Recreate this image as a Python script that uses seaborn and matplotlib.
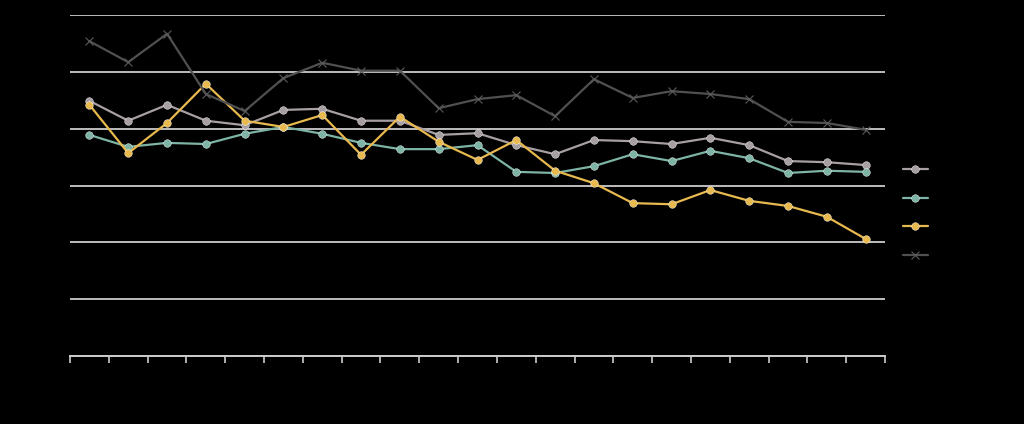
import matplotlib
matplotlib.use("Agg")
import matplotlib.pyplot as plt
import seaborn as sns
import pandas as pd
import numpy as np
from matplotlib.colors import to_rgba

years = [str(y) for y in range(2000, 2021)]
series_names = ["Series A", "Series B", "Series C", "Series D"]

series_a = [44.9, 41.4, 44.2, 41.4, 40.6, 43.3, 43.5, 41.4, 41.4, 38.9, 39.2,
            37.1, 35.5, 38.0, 37.8, 37.3, 38.4, 37.1, 34.3, 34.1, 33.6]
series_b = [38.9, 36.8, 37.5, 37.3, 39.1, 40.3, 39.1, 37.5, 36.4, 36.4, 37.1,
            32.4, 32.2, 33.4, 35.5, 34.3, 36.1, 34.8, 32.2, 32.6, 32.4]
series_c = [44.2, 35.7, 41.0, 47.9, 41.4, 40.3, 42.4, 35.4, 42.1, 37.7, 34.5,
            38.0, 32.6, 30.4, 26.9, 26.7, 29.2, 27.3, 26.4, 24.5, 20.6]
series_d = [55.4, 51.7, 56.7, 46.1, 43.1, 48.9, 51.6, 50.2, 50.2, 43.6, 45.2,
            45.9, 42.2, 48.7, 45.4, 46.6, 46.1, 45.2, 41.2, 41.0, 39.8]
y_ticks = [0, 10, 20, 30, 40, 50, 60]

colors = ["#a79fa3", "#7db4a5", "#e8b94e", "#505050"]

frames = []
for name, vals in zip(series_names, [series_a, series_b, series_c, series_d]):
    frames.append(pd.DataFrame({"year": years, "value": vals, "series": name}))
df = pd.concat(frames, ignore_index=True)
df["xi"] = df["year"].map({y: i for i, y in enumerate(years)})

sns.set_theme(style="white")
plt.rcParams["font.family"] = ["DejaVu Sans"]

fig = plt.figure(figsize=(10.24, 4.24), dpi=100, facecolor="black")
ax = fig.add_axes([70/1024, (424-356)/424, 815/1024, 341/424])
ax.set_facecolor("black")

sns.lineplot(data=df, x="xi", y="value", hue="series",
             palette=dict(zip(series_names, colors)),
             marker="o", dashes=False, linewidth=1.6, markersize=5.5,
             markeredgewidth=0.3, ax=ax, legend=True)

def restyle(line):
    c = to_rgba(line.get_color())
    if np.allclose(c, to_rgba(colors[3]), atol=0.02):
        line.set_marker("x")
        line.set_markersize(5.5)
        line.set_markeredgewidth(0.8)
        line.set_markeredgecolor("#5a5a5a")

for line in ax.lines:
    restyle(line)

ax.set_xlim(-0.5, len(years) - 0.5)
ax.set_ylim(0, 60)
ax.set_yticks(y_ticks)
ax.set_yticklabels([str(t) for t in y_ticks], color="black")
ax.yaxis.grid(True, color="#dddddd", linewidth=1.2)
ax.set_axisbelow(True)
ax.set_xticks(range(len(years)))
ax.set_xticklabels(years, color="black", fontsize=9)
ax.set_xticks(np.arange(-0.5, len(years)), minor=True)
ax.tick_params(axis="x", which="major", length=0, pad=8)
ax.tick_params(axis="x", which="minor", length=5, color="#cccccc", width=1.2, bottom=True)
ax.tick_params(axis="y", length=0)
for s in ["top", "right", "left"]:
    ax.spines[s].set_visible(False)
ax.spines["bottom"].set_color("#cccccc")
ax.spines["bottom"].set_linewidth(1.4)
ax.set_xlabel("Year", color="black")
ax.set_ylabel("Value", color="black")

handles, labels = ax.get_legend_handles_labels()
leg = ax.legend(handles, labels, loc="upper left",
                bbox_to_anchor=(890/1024, (424-118)/424),
                bbox_transform=fig.transFigure, frameon=False,
                fontsize=10, handlelength=1.8, labelspacing=1.05,
                title="series")
for h in leg.legend_handles:
    restyle(h)
for t in leg.get_texts():
    t.set_color("black")
leg.get_title().set_color("black")

fig.savefig("out.png", dpi=100, facecolor="black")
